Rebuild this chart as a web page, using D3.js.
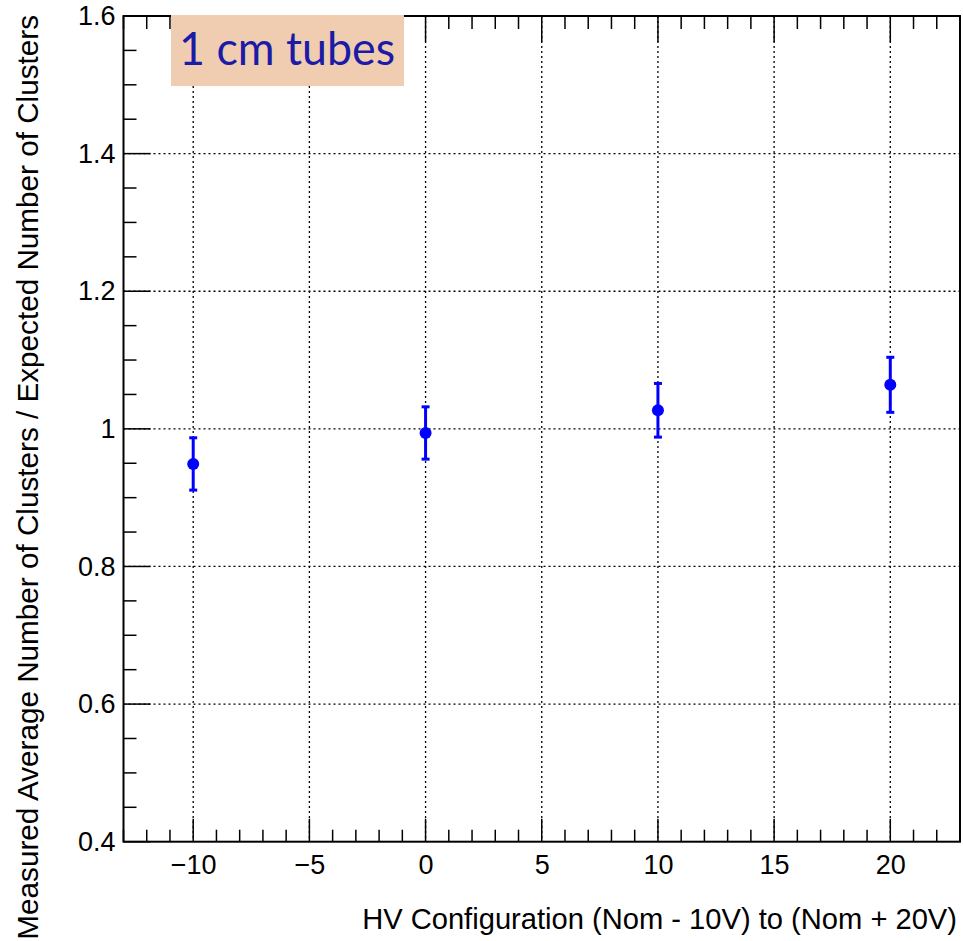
<!DOCTYPE html>
<html><head><meta charset="utf-8">
<script src="https://cdn.jsdelivr.net/npm/d3@7"></script>
<style>body{margin:0;background:#fff}svg{display:block}</style>
</head><body>
<svg id="c" width="963" height="941"></svg>
<script>
const hvSetting = [-10, 0, 10, 20];
const ratio = [0.949, 0.994, 1.027, 1.064];
const ratioErr = [0.038, 0.038, 0.039, 0.040];
const xMajorTicks = [-10, -5, 0, 5, 10, 15, 20];
const yMajorTicks = [0.4, 0.6, 0.8, 1.0, 1.2, 1.4, 1.6];
const yTickLabels = ["0.4", "0.6", "0.8", "1", "1.2", "1.4", "1.6"];
const xTitle = "HV Configuration (Nom - 10V) to (Nom + 20V)";
const yTitle = "Measured Average Number of Clusters / Expected Number of Clusters";
const labelText = "1 cm tubes";

const svg = d3.select("#c");
const L = 123.5, R = 960, T = 16, B = 841.7;
const x = d3.scaleLinear().domain([-13, 23]).range([L, R]);
const y = d3.scaleLinear().domain([0.4, 1.6]).range([B, T]);
const font = "'Liberation Sans', Arial, Helvetica, sans-serif";

// grid
const grid = svg.append("g").attr("stroke", "#000").attr("stroke-width", 1.3).attr("stroke-dasharray", "2,3");
xMajorTicks.forEach(v => grid.append("line").attr("x1", x(v)).attr("x2", x(v)).attr("y1", T).attr("y2", B));
yMajorTicks.filter(v => v > 0.45 && v < 1.55).forEach(v => grid.append("line").attr("x1", L).attr("x2", R).attr("y1", y(v)).attr("y2", y(v)));

// ticks
const ticks = svg.append("g").attr("stroke", "#000").attr("stroke-width", 1.5);
const xMinor = d3.range(-13, 23.01, 1);
xMinor.forEach(v => {
  const major = xMajorTicks.includes(v);
  ticks.append("line").attr("x1", x(v)).attr("x2", x(v)).attr("y1", B).attr("y2", B - (major ? 23 : 12));
  ticks.append("line").attr("x1", x(v)).attr("x2", x(v)).attr("y1", T).attr("y2", T + (major ? 26 : 13));
});
const yMinor = d3.range(0.4, 1.6001, 0.05);
yMinor.forEach(v => {
  const major = yMajorTicks.some(m => Math.abs(m - v) < 1e-6);
  ticks.append("line").attr("x1", L).attr("x2", L + (major ? 27 : 13)).attr("y1", y(v)).attr("y2", y(v));
});

// frame
svg.append("rect").attr("x", L).attr("y", T).attr("width", R - L).attr("height", B - T)
  .attr("fill", "none").attr("stroke", "#000").attr("stroke-width", 2);

// tick labels
const xAxis = d3.axisBottom(x).tickValues(xMajorTicks).tickSize(0).tickPadding(13)
  .tickFormat(d => d < 0 ? "\u2212" + Math.abs(d) : String(d));
const gx = svg.append("g").attr("transform", `translate(0,${B})`).call(xAxis);
gx.select(".domain").remove();
gx.selectAll("text").attr("font-family", font).attr("font-size", 27).attr("fill", "#000");

const yAxis = d3.axisLeft(y).tickValues(yMajorTicks).tickSize(0).tickPadding(8)
  .tickFormat((d, i) => yTickLabels[i]);
const gy = svg.append("g").attr("transform", `translate(${L},0)`).call(yAxis);
gy.select(".domain").remove();
gy.selectAll("text").attr("font-family", font).attr("font-size", 27).attr("fill", "#000");

// axis titles
function fitText(sel, target, base) {
  const len = sel.node().getComputedTextLength();
  sel.attr("font-size", base * target / len);
}
const xt = svg.append("text").attr("x", 957).attr("y", 929).attr("text-anchor", "end")
  .attr("font-family", font).attr("font-size", 25).attr("fill", "#000").text(xTitle);
fitText(xt, 595, 25);
const yt = svg.append("text").attr("transform", "translate(38,15) rotate(-90)").attr("text-anchor", "end")
  .attr("font-family", font).attr("font-size", 25).attr("fill", "#000").text(yTitle);
fitText(yt, 925, 25);

// data
const data = hvSetting.map((h, i) => ({h, v: ratio[i], e: ratioErr[i]}));
const g = svg.append("g").attr("stroke", "#0000ff").attr("fill", "#0000ff");
g.selectAll("line.eb").data(data).join("line").attr("class", "eb")
  .attr("x1", d => x(d.h)).attr("x2", d => x(d.h)).attr("y1", d => y(d.v - d.e)).attr("y2", d => y(d.v + d.e))
  .attr("stroke-width", 3);
g.selectAll("line.ct").data(data).join("line").attr("class", "ct")
  .attr("x1", d => x(d.h) - 4).attr("x2", d => x(d.h) + 4).attr("y1", d => y(d.v + d.e)).attr("y2", d => y(d.v + d.e))
  .attr("stroke-width", 3);
g.selectAll("line.cb").data(data).join("line").attr("class", "cb")
  .attr("x1", d => x(d.h) - 4).attr("x2", d => x(d.h) + 4).attr("y1", d => y(d.v - d.e)).attr("y2", d => y(d.v - d.e))
  .attr("stroke-width", 3);
g.selectAll("circle").data(data).join("circle")
  .attr("cx", d => x(d.h)).attr("cy", d => y(d.v)).attr("r", 6).attr("stroke", "none");

// label box
svg.append("rect").attr("x", 171).attr("y", 15).attr("width", 233).attr("height", 71).attr("fill", "#f0cdb1");
svg.append("text").attr("x", 179).attr("y", 65).attr("font-family", "Lato, 'Open Sans', sans-serif")
  .attr("font-size", 46).attr("fill", "#1b1ba8")
  .attr("textLength", 216).attr("lengthAdjust", "spacingAndGlyphs").text(labelText);
</script>
</body></html>
